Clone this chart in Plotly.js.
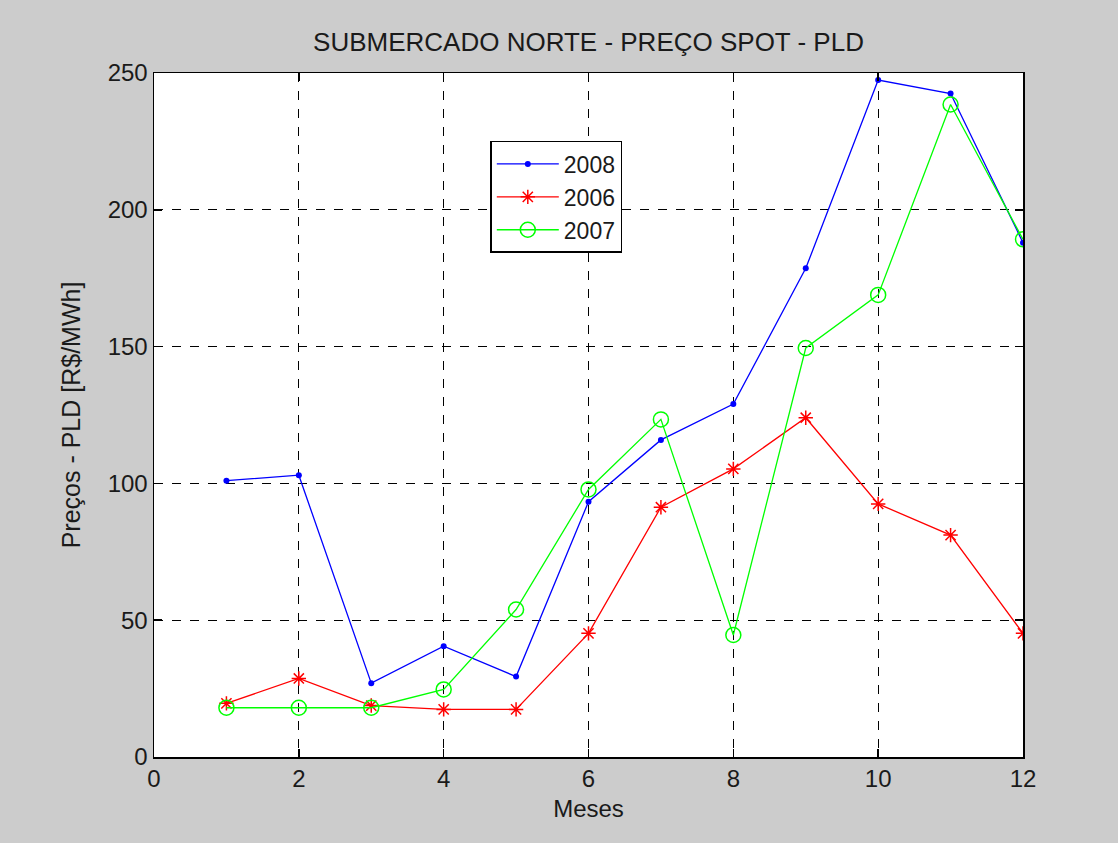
<!DOCTYPE html>
<html>
<head>
<meta charset="utf-8">
<script src="https://cdn.plot.ly/plotly-3.0.1.min.js"></script>
<style>html,body{margin:0;padding:0;background:#cccccc;}#chart{width:1118px;height:843px;}</style>
</head>
<body>
<div id="chart"></div>
<script>
const meses = [1,2,3,4,5,6,7,8,9,10,11,12];
const pld2008 = [101, 103, 27, 40.5, 29.4, 93.3, 115.9, 129, 178.6, 247.4, 242.5, 188];
const pld2006 = [19.6, 28.7, 18.8, 17.4, 17.4, 45.2, 91.3, 105.3, 124, 92.5, 81.1, 45.2];
const pld2007 = [18, 18, 18, 24.7, 53.9, 97.8, 123.4, 44.6, 149.5, 168.9, 238.5, 189.2];
const xTicks = [0,2,4,6,8,10,12];
const yTicks = [0,50,100,150,200,250];

const font = {family: 'Liberation Sans, Arial, sans-serif', size: 24, color: '#1a1a1a'};
const titleFont = Object.assign({}, font, {size: 26});
const legendFont = Object.assign({}, font, {size: 23});

const traces = [
  {x: meses, y: pld2008, name: '2008', mode: 'lines+markers', type: 'scatter',
   line: {color: '#0000ff', width: 1.3}, marker: {symbol: 'circle', size: 6, color: '#0000ff'}},
  {x: meses, y: pld2006, name: '2006', mode: 'lines+markers', type: 'scatter',
   line: {color: '#ff0000', width: 1.3}, marker: {symbol: 'asterisk-open', size: 12, color: '#ff0000', line: {color: '#ff0000', width: 1.5}}},
  {x: meses, y: pld2007, name: '2007', mode: 'lines+markers', type: 'scatter',
   line: {color: '#00ff00', width: 1.3}, marker: {symbol: 'circle-open', size: 15, color: '#00ff00', line: {color: '#00ff00', width: 1.5}}}
];

const axisCommon = {
  showline: true, linecolor: '#000', linewidth: 1.5, mirror: 'ticks',
  ticks: 'inside', ticklen: 8, tickcolor: '#000', tickwidth: 1.5,
  showgrid: true, gridcolor: '#000', gridwidth: 1, griddash: 'dash',
  zeroline: false, tickfont: font
};

const layout = {
  width: 1118, height: 843,
  paper_bgcolor: '#cccccc', plot_bgcolor: '#ffffff',
  margin: {l: 154, r: 95, t: 73, b: 86},
  font: font,
  title: {text: 'SUBMERCADO NORTE - PREÇO SPOT - PLD', font: titleFont, xref: 'paper', x: 0.5, xanchor: 'center', y: 0.950, yanchor: 'middle'},
  xaxis: Object.assign({}, axisCommon, {range: [0, 12], tickvals: xTicks, ticktext: xTicks.map(String),
    title: {text: 'Meses', font: font, standoff: 9}}),
  yaxis: Object.assign({}, axisCommon, {range: [0, 250], tickvals: yTicks, ticktext: yTicks.map(String),
    title: {text: 'Preços - PLD [R$/MWh]', font: Object.assign({}, font, {size: 25}), standoff: 20}}),
  showlegend: true,
  legend: {x: 0.387, y: 0.9006, xanchor: 'left', yanchor: 'top', bgcolor: '#ffffff',
    bordercolor: '#000', borderwidth: 1.5, font: legendFont, tracegroupgap: 0, itemwidth: 62, entrywidth: 150}
};

Plotly.newPlot('chart', traces, layout, {displayModeBar: false, staticPlot: true});
</script>
</body>
</html>
